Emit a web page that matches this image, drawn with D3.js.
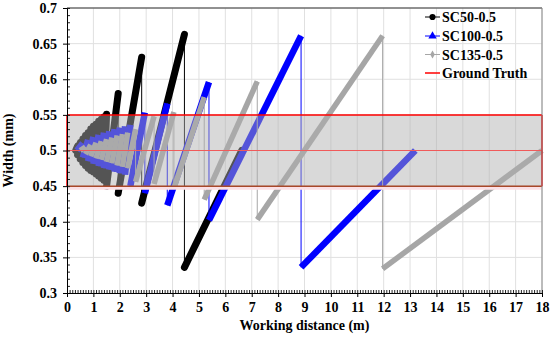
<!DOCTYPE html>
<html><head><meta charset="utf-8">
<script src="https://cdn.jsdelivr.net/npm/d3@7"></script>
<style>
html,body{margin:0;padding:0;background:#fff;}
</style></head>
<body><svg id="chart" width="550" height="338"></svg>
<script>
// ---------- data ----------
const xTickValues = [0,1,2,3,4,5,6,7,8,9,10,11,12,13,14,15,16,17,18];
const yTickValues = [0.3,0.35,0.4,0.45,0.5,0.55,0.6,0.65,0.7];
const yTickLabels = ["0.3","0.35","0.4","0.45","0.5","0.55","0.6","0.65","0.7"];
const seriesNames = ["SC50-0.5","SC100-0.5","SC135-0.5","Ground Truth"];
const seriesColors = ["#000000","#0000ff","#a6a6a6","#ff0000"];

// polyline vertices (distance m, width mm); equal distances = vertical drop
const sc50Dist  = [0.33,0.4,0.4,0.5,0.5,0.6,0.6,0.7,0.7,0.8,0.8,0.9,0.9,1.0,1.0,1.1,1.1,1.2,1.2,1.3,1.3,1.4,1.4,1.5,1.5,1.94,1.94,2.83,2.83,4.45,4.45,6.62];
const sc50Width = [0.5,0.506,0.494,0.511,0.488,0.516,0.483,0.521,0.479,0.525,0.475,0.53,0.472,0.534,0.47,0.537,0.467,0.541,0.464,0.544,0.461,0.547,0.458,0.551,0.45,0.58,0.44,0.631,0.426,0.663,0.336,0.5];

const sc100Dist  = [0.38,0.6,0.6,0.8,0.8,1.0,1.0,1.2,1.2,1.4,1.4,1.6,1.6,1.8,1.8,2.0,2.0,2.2,2.2,2.4,2.4,2.95,2.95,3.8,3.8,5.38,5.38,8.87,8.87,13.2];
const sc100Width = [0.5,0.51,0.49,0.515,0.485,0.519,0.481,0.522,0.478,0.525,0.475,0.527,0.473,0.53,0.47,0.532,0.468,0.534,0.466,0.536,0.45,0.553,0.44,0.566,0.423,0.596,0.402,0.661,0.336,0.5];

const sc135Dist  = [0.5,0.7,0.7,0.9,0.9,1.1,1.1,1.3,1.3,1.5,1.5,1.7,1.7,1.9,1.9,2.1,2.1,2.3,2.3,2.6,2.6,3.3,3.3,4.05,4.05,5.2,5.2,7.21,7.21,11.96,11.96,18];
const sc135Width = [0.5,0.505,0.495,0.508,0.492,0.511,0.489,0.513,0.487,0.516,0.484,0.518,0.482,0.521,0.479,0.523,0.477,0.525,0.475,0.53,0.456,0.548,0.453,0.554,0.447,0.575,0.431,0.597,0.403,0.661,0.334,0.5];

const truthBand = [0.45, 0.55];
const truthValue = 0.5;

// ---------- layout ----------
const FONT = "Liberation Serif";
const svg = d3.select("#chart");
const L = 67, R = 542, T = 8, B = 293;
const x = d3.scaleLinear().domain([0,18]).range([L,R]);
const y = d3.scaleLinear().domain([0.3,0.7]).range([B,T]);

// grid
const grid = svg.append("g");
grid.selectAll("line.vx").data(xTickValues.slice(1)).join("line")
  .attr("x1",d=>x(d)).attr("x2",d=>x(d)).attr("y1",T).attr("y2",B)
  .attr("stroke","#e0e0e0").attr("stroke-width",1);
grid.selectAll("line.hy").data(yTickValues.slice(1)).join("line")
  .attr("x1",L).attr("x2",R).attr("y1",d=>y(d)).attr("y2",d=>y(d))
  .attr("stroke","#e0e0e0").attr("stroke-width",1);

// series
const series = [
  {d:sc50Dist, w:sc50Width, color:seriesColors[0], sw:7, cap:"round"},
  {d:sc100Dist, w:sc100Width, color:seriesColors[1], sw:6.5, cap:"butt"},
  {d:sc135Dist, w:sc135Width, color:seriesColors[2], sw:5.5, cap:"butt"}
];
series.forEach(s=>{
  const g = svg.append("g");
  const segs = [];
  for(let i=0;i<s.d.length-1;i++){
    segs.push({x1:s.d[i],y1:s.w[i],x2:s.d[i+1],y2:s.w[i+1],drop:s.d[i]===s.d[i+1]});
  }
  g.selectAll("line").data(segs).join("line")
    .attr("x1",e=>x(e.x1)).attr("y1",e=>y(e.y1))
    .attr("x2",e=>x(e.x2)).attr("y2",e=>y(e.y2))
    .attr("stroke",s.color)
    .attr("stroke-width",e=>e.drop?1:s.sw)
    .attr("stroke-linecap",e=>e.drop?"butt":s.cap);
});

// ground-truth band overlay
svg.append("rect")
  .attr("x",L).attr("y",y(truthBand[1]))
  .attr("width",R-L).attr("height",y(truthBand[0])-y(truthBand[1]))
  .attr("fill","#b0b0b0").attr("fill-opacity",0.48);
svg.append("line").attr("x1",L).attr("x2",R).attr("y1",y(truthBand[0])+2).attr("y2",y(truthBand[0])+2)
  .attr("stroke","#fbe0e6").attr("stroke-width",3);
svg.append("line").attr("x1",L).attr("x2",R).attr("y1",y(truthValue)).attr("y2",y(truthValue))
  .attr("stroke","#f05a5a").attr("stroke-width",1);
svg.append("line").attr("x1",L).attr("x2",R).attr("y1",y(truthBand[1])).attr("y2",y(truthBand[1]))
  .attr("stroke","#ff0000").attr("stroke-width",1.5);
svg.append("line").attr("x1",L).attr("x2",R).attr("y1",y(truthBand[0])).attr("y2",y(truthBand[0]))
  .attr("stroke","#a8482a").attr("stroke-width",1.5);
[L,R].forEach(px=>svg.append("line").attr("x1",px).attr("x2",px)
  .attr("y1",y(truthBand[1])).attr("y2",y(truthBand[0]))
  .attr("stroke","#ff0000").attr("stroke-width",1.5));

// frame top/right
svg.append("line").attr("x1",L).attr("x2",R).attr("y1",T).attr("y2",T).attr("stroke","#333").attr("stroke-width",1);
svg.append("line").attr("x1",R).attr("x2",R).attr("y1",T).attr("y2",B).attr("stroke","#888").attr("stroke-width",1);

// axes
const yMinor = d3.range(30,71).map(v=>v/100);
const xMinor = d3.range(0,181).map(v=>v/10);
svg.append("g").attr("transform",`translate(${L},0)`)
  .call(d3.axisRight(y).tickValues(yMinor).tickSize(3).tickFormat(""))
  .call(g=>g.select(".domain").remove())
  .selectAll("line").attr("stroke","#222");
svg.append("g").attr("transform",`translate(0,${B})`)
  .call(d3.axisTop(x).tickValues(xMinor).tickSize(3).tickFormat(""))
  .call(g=>g.select(".domain").remove())
  .selectAll("line").attr("stroke","#222");

const yAxis = svg.append("g").attr("transform",`translate(${L},0)`)
  .call(d3.axisLeft(y).tickValues(yTickValues).tickSize(4).tickPadding(6)
    .tickSizeOuter(0).tickFormat((d,i)=>yTickLabels[i]));
yAxis.attr("font-family",FONT).attr("font-size",14);
yAxis.selectAll("text").attr("fill","#000").attr("font-weight","bold");
yAxis.select(".domain").attr("stroke","#000");

const xAxis = svg.append("g").attr("transform",`translate(0,${B})`)
  .call(d3.axisBottom(x).tickValues(xTickValues).tickSize(4).tickPadding(5)
    .tickSizeOuter(0).tickFormat(d3.format("d")));
xAxis.attr("font-family",FONT).attr("font-size",14);
xAxis.selectAll("text").attr("fill","#000").attr("font-weight","bold");
xAxis.select(".domain").attr("stroke","#000");

// titles
svg.append("text").attr("x",(L+R)/2).attr("y",330).attr("text-anchor","middle")
  .attr("font-family",FONT).attr("font-weight","bold").attr("font-size",14).text("Working distance (m)");
svg.append("text").attr("transform",`translate(13,${(T+B)/2}) rotate(-90)`)
  .attr("font-family",FONT).attr("font-weight","bold").attr("text-anchor","middle").attr("font-size",14).text("Width (mm)");

// legend
const legY = [17,36,54.5,73];
const symbols = [d3.symbolCircle, d3.symbolTriangle, d3.symbolDiamond, null];
const symSize = [30, 30, 18, 0];
const lg = svg.append("g");
seriesNames.forEach((name,i)=>{
  const yy = legY[i];
  lg.append("line").attr("x1",425).attr("x2",440).attr("y1",yy).attr("y2",yy)
    .attr("stroke",seriesColors[i]).attr("stroke-width",i===3?1.5:1);
  if(symbols[i]){
    lg.append("path").attr("d",d3.symbol(symbols[i],symSize[i])())
      .attr("transform",`translate(432.5,${yy})`).attr("fill",seriesColors[i]);
  }
  lg.append("text").attr("x",442).attr("y",yy+5).attr("font-family",FONT)
    .attr("font-weight","bold").attr("font-size",14).text(name);
});
</script></body></html>
